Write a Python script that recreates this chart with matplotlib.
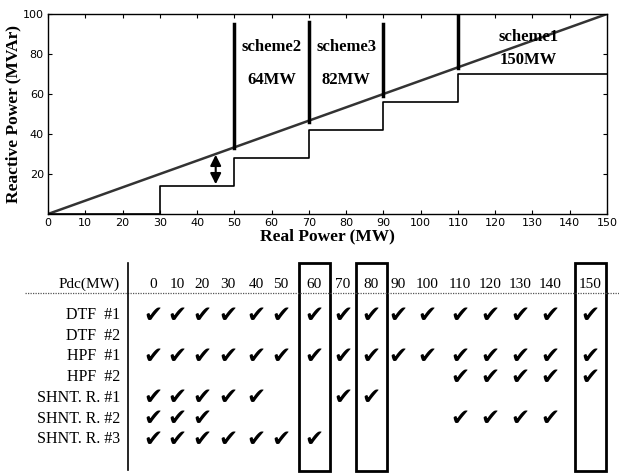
import numpy as np
from matplotlib import patches
from matplotlib import pyplot as plt

# Top chart data
p_line = [0, 150]
q_line = [0, 100]
step_p = [0, 30, 30, 50, 50, 70, 70, 90, 90, 110, 110, 150]
step_q = [0, 0, 14, 14, 28, 28, 42, 42, 56, 56, 70, 70]
scheme_p = [50, 70, 90, 110]
scheme_lo = [33, 46, 59, 73]
scheme_hi = [95, 96, 95, 100]
scheme_names = ["scheme2", "scheme3", "scheme1"]
scheme_mw = ["64MW", "82MW", "150MW"]

# Table data
pdc = [0, 10, 20, 30, 40, 50, 60, 70, 80, 90, 100, 110, 120, 130, 140, 150]
devices = ["DTF  #1", "DTF  #2", "HPF  #1", "HPF  #2", "SHNT. R. #1", "SHNT. R. #2", "SHNT. R. #3"]
on = {
    "DTF  #1": pdc,
    "DTF  #2": [],
    "HPF  #1": pdc,
    "HPF  #2": [110, 120, 130, 140, 150],
    "SHNT. R. #1": [0, 10, 20, 30, 40, 70, 80],
    "SHNT. R. #2": [0, 10, 20, 110, 120, 130, 140],
    "SHNT. R. #3": [0, 10, 20, 30, 40, 50, 60],
}
boxed = [60, 80, 150]

W, H = 619, 473
fig = plt.figure(figsize=(W / 100, H / 100), dpi=100)

# ---- top chart ----
ax = fig.add_axes([48 / W, 1 - 214 / H, 559 / W, 200 / H])
ax.plot(p_line, q_line, color="#333333", lw=1.8)
ax.plot(step_p, step_q, color="black", lw=1.2)
for x, lo, hi in zip(scheme_p, scheme_lo, scheme_hi):
    ax.plot([x, x], [lo, hi], color="black", lw=2.5)

serif = "Liberation Serif"
bold = dict(ha="center", va="center", family=serif, weight="bold", fontsize=12)
ax.text(60, 83.5, scheme_names[0], **bold)
ax.text(60, 67, scheme_mw[0], **bold)
ax.text(80, 83.5, scheme_names[1], **bold)
ax.text(80, 67, scheme_mw[1], **bold)
ax.text(129, 88.5, scheme_names[2], **bold)
ax.text(129, 77, scheme_mw[2], **bold)

ax.annotate("", xy=(45, 13.5), xytext=(45, 31),
            arrowprops=dict(arrowstyle="<|-|>", color="black", lw=1.5, mutation_scale=16))

ax.set_xlim(0, 150)
ax.set_ylim(0, 100)
ax.set_xticks(np.arange(0, 151, 10))
ax.set_yticks([20, 40, 60, 80, 100])
ax.tick_params(direction="in", top=True, right=True, labelsize=8, length=3, pad=3)
for s in ax.spines.values():
    s.set_linewidth(1.0)
ax.set_xlabel("Real Power (MW)", family=serif, weight="bold", fontsize=12.5, labelpad=0)
ax.set_ylabel("Reactive Power (MVAr)", family=serif, weight="bold", fontsize=12.5, labelpad=1)

# ---- table ----
tb = fig.add_axes([0, 0, 1, 1])
tb.set_xlim(0, W)
tb.set_ylim(H, 0)
tb.axis("off")
tb.patch.set_alpha(0)

col_x = [153, 177, 202, 228, 256, 281, 314, 343, 371, 398, 427, 460, 490, 520, 550, 590]
head_y = 284
row_y0, row_dy = 315, 20.7
box_w = 31

tb.text(120, head_y, "Pdc(MW)", ha="right", va="center", family=serif, fontsize=11)
for x, v in zip(col_x, pdc):
    tb.text(x, head_y, str(v), ha="center", va="center", family=serif, fontsize=11)
tb.plot([25, W], [293, 293], color="#555555", lw=0.9, ls=(0, (1, 1)))
tb.plot([128, 128], [263, 470], color="black", lw=1.2)

for i, dev in enumerate(devices):
    y = row_y0 + i * row_dy
    tb.text(120, y, dev, ha="right", va="center", family=serif, fontsize=11.5)
    for v in on[dev]:
        tb.text(col_x[pdc.index(v)], y, "\u2714", ha="center", va="center",
                family="DejaVu Sans", fontsize=16.5, color="black")

for v in boxed:
    x = col_x[pdc.index(v)]
    tb.add_patch(patches.Rectangle((x - box_w / 2, 263), box_w, 208, fill=False,
                                   edgecolor="black", lw=2))

fig.savefig("out.png", dpi=100)
